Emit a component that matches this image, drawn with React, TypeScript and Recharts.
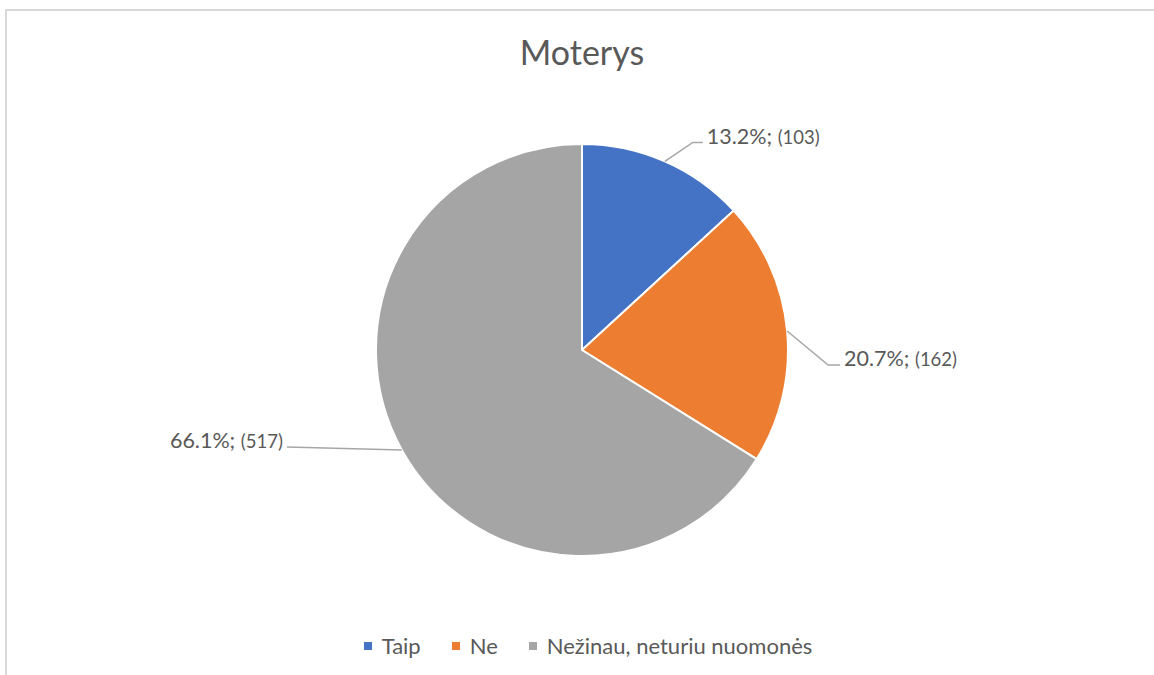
import React from "react";
import { PieChart, Pie, Cell, Legend } from "recharts";

const categories = ["Taip", "Ne", "Nežinau, neturiu nuomonės"];
const counts = [103, 162, 517];
const colors = ["#4472C4", "#ED7D31", "#A5A5A5"];
const title = "Moterys";

const data = categories.map((name, i) => ({ name, value: counts[i] }));

// leader-line layout (styling, not data): elbow offset from arc point, horizontal tail, text anchor
const labelLayout = [
  { dx: 28, dy: -19, tail: 10, anchor: "start" },
  { dx: 41, dy: 34, tail: 12, anchor: "start" },
  { dx: -115, dy: -3, tail: 0, anchor: "end" },
];

const FONT = "Lato, 'Open Sans', sans-serif";
const TEXT = "#595959";
const RAD = Math.PI / 180;

const renderLabel = (props: any) => {
  const { cx, cy, midAngle, outerRadius, percent, value, index } = props;
  const lay = labelLayout[index];
  const ax = cx + outerRadius * Math.cos(midAngle * RAD);
  const ay = cy - outerRadius * Math.sin(midAngle * RAD);
  const ex = ax + lay.dx;
  const ey = ay + lay.dy;
  const dir = lay.anchor === "start" ? 1 : -1;
  const tx = ex + dir * lay.tail;
  const textX = tx + dir * 4;
  return (
    <g>
      <polyline
        points={`${ax},${ay} ${ex},${ey} ${tx},${ey}`}
        fill="none"
        stroke="#A6A6A6"
        strokeWidth={1.5}
      />
      <text
        x={textX}
        y={ey + 1.5}
        textAnchor={lay.anchor}
        fill={TEXT}
        fontFamily={FONT}
        fontSize={21.5}
      >
        {`${(percent * 100).toFixed(1)}%; `}
        <tspan fontSize={18.5}>{`(${value})`}</tspan>
      </text>
    </g>
  );
};

const renderLegend = () => (
  <div
    style={{
      display: "flex",
      justifyContent: "center",
      alignItems: "center",
      fontFamily: FONT,
      fontSize: 22,
      color: TEXT,
      gap: 31,
    }}
  >
    {categories.map((c, i) => (
      <div key={c} style={{ display: "flex", alignItems: "center" }}>
        <span
          style={{
            display: "inline-block",
            width: 8,
            height: 8,
            background: colors[i],
            marginRight: 10,
          }}
        />
        <span>{c}</span>
      </div>
    ))}
  </div>
);

export default function App() {
  return (
    <div
      style={{
        position: "absolute",
        left: 0,
        top: 0,
        width: 1154,
        height: 675,
        overflow: "hidden",
        background: "#fff",
      }}
    >
      <div
        style={{
          position: "absolute",
          left: 5,
          top: 9,
          width: 1200,
          height: 700,
          borderLeft: "2px solid #D9D9D9",
          borderTop: "2px solid #D9D9D9",
          boxSizing: "border-box",
        }}
      />
      <div
        style={{
          position: "absolute",
          left: 0,
          width: 1164,
          top: 32,
          textAlign: "center",
          fontFamily: FONT,
          fontSize: 34,
          color: TEXT,
          lineHeight: "40px",
        }}
      >
        {title}
      </div>
      <div style={{ position: "absolute", left: 0, top: 0 }}>
        <PieChart
          width={1154}
          height={675}
          margin={{ top: 0, right: 0, bottom: 0, left: 0 }}
        >
          <Pie
            data={data}
            dataKey="value"
            nameKey="name"
            cx={582}
            cy={350}
            outerRadius={206}
            startAngle={90}
            endAngle={-270}
            stroke="#FFFFFF"
            strokeWidth={2}
            label={renderLabel}
            labelLine={false}
            isAnimationActive={false}
          >
            {data.map((d, i) => (
              <Cell key={d.name} fill={colors[i]} />
            ))}
          </Pie>
          <Legend
            verticalAlign="bottom"
            align="center"
            content={renderLegend}
            wrapperStyle={{ bottom: 16, left: 0, width: 1176 }}
          />
        </PieChart>
      </div>
    </div>
  );
}
